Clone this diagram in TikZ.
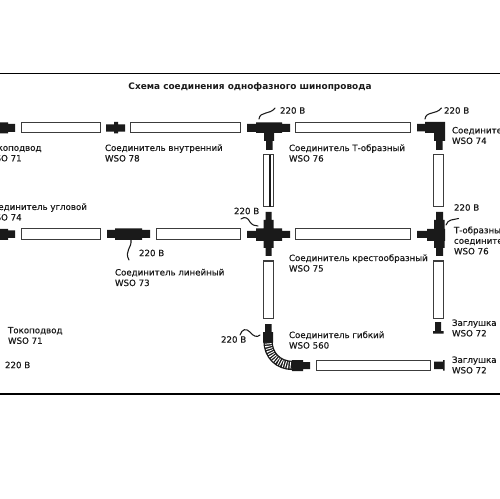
\documentclass[tikz,border=0pt]{standalone}
\usepackage{fontspec}
\setmainfont{DejaVu Sans}
\newfontfamily\lblfont[RawFeature={embolden=0.35}]{DejaVu Sans}
\usetikzlibrary{calc}
\definecolor{ink}{HTML}{1A1A1A}
\tikzset{
  lbl/.style={anchor=west,inner sep=0pt,outer sep=0pt,align=left,text=ink,font=\lblfont\fontsize{6.5}{7.9}\selectfont},
  ttl/.style={anchor=center,inner sep=0pt,text=ink,font=\fontsize{6.7}{8}\selectfont\bfseries},
  rail/.style={draw=ink!85,fill=white,line width=0.75pt},
  blk/.style={fill=ink,draw=none},
  wire/.style={draw=ink,line width=0.8pt,line cap=round},
  rule/.style={draw=black,line width=0.8pt}
}
\begin{document}
\begin{tikzpicture}[x=0.75pt,y=-0.75pt]
\useasboundingbox (0,0) rectangle (500,499);
\fill[white] (0,0) rectangle (500,499);
\clip (0,0) rectangle (500,499);
\draw[rule] (0,73.5) -- (500,73.5);
\draw[rule] (0,394) -- (500,394);
\node[ttl] (title) at (250,87) {Схема соединения однофазного шинопровода};
% horizontal rails
\draw[rail] (21,122.5) rectangle (100,133);
\draw[rail] (130,122.5) rectangle (240.5,133);
\draw[rail] (295.7,122.5) rectangle (410.7,133);
\draw[rail] (21,229) rectangle (100.5,239.5);
\draw[rail] (156.5,229) rectangle (240.5,239.5);
\draw[rail] (295.7,229) rectangle (410.7,239.5);
\draw[rail] (316,360.5) rectangle (430,370.5);
% vertical rails
\draw[rail] (263.5,155) rectangle (273.5,207);
\draw[ink,line width=1.1pt] (270,155) -- (270,207);
\draw[rail] (433.5,155) rectangle (443.5,207);
\draw[rail] (263.5,261) rectangle (273.5,318);
\draw[rail] (433.5,261) rectangle (443.5,318);
% feed WSO 71 top
\fill[blk] (0,122.5) rectangle (8,133.5) (8,124) rectangle (15,132);
% inner WSO 78
\fill[blk] (106,124.3) rectangle (125,131.7) (114,122) rectangle (118,133.5);
% T WSO 76 top
\fill[blk] (247,124) rectangle (290,132) (256,122.5) rectangle (282,133) (264,122.5) rectangle (274,141) (266,141) rectangle (272.5,150);
% corner WSO 74 top
\fill[blk] (417,124) rectangle (426,131.5) (425,122) rectangle (445,133) (434,122) rectangle (445,141) (436,141) rectangle (442.5,150);
\draw[wire] (259,119) .. controls (260,111) and (270,115) .. (275,108);
\draw[wire] (425,119) .. controls (426,111) and (436,115) .. (441.5,108);
% corner WSO 74 mid-left
\fill[blk] (0,229) rectangle (8,240) (8,230.5) rectangle (15,238);
% linear WSO 73
\fill[blk] (107,230) rectangle (150,238) (115,228.5) rectangle (142,240);
\draw[wire] (131,240) .. controls (132,248) and (124,251) .. (129,260);
% cross WSO 75
\fill[blk] (247,231) rectangle (290,238) (256,228.5) rectangle (282,241) (263.5,220) rectangle (273.5,248) (265.5,212) rectangle (271.5,256);
\draw[wire] (241,219) .. controls (245,216) and (248,218) .. (250,222) .. controls (252,225) and (255,226) .. (258,226);
% T right WSO 76
\fill[blk] (417,231) rectangle (428,238) (427,229) rectangle (445,241) (434,220) rectangle (444.5,248) (436,212) rectangle (443,256);
\draw[wire] (446,225) .. controls (448,219) and (453,220) .. (458.5,218.5);
% end caps
\fill[blk] (435,322) rectangle (441,331) (433,331) rectangle (443.5,333.5);
\fill[blk] (434,361.5) rectangle (443,369) (443,360) rectangle (444.5,370.5);
% flexible WSO 560
\draw[ink,line width=7pt] (268,341) .. controls (268,355) and (278,365.5) .. (293,365.5);
\draw[white,line width=5pt,dash pattern=on 0.7pt off 1.1pt] (268,341) .. controls (268,355) and (278,365.5) .. (293,365.5);
\fill[blk] (265,324) rectangle (271.7,334) (263,332) rectangle (273,342.5) (292,360) rectangle (303,371) (303,362) rectangle (310,369);
\draw[wire] (240,335) .. controls (242,329) and (246,328) .. (250,332) .. controls (253,336) and (257,338) .. (260,335);
% labels
\node[lbl] (l1) at (-13,153) {Токоподвод\\WSO 71};
\node[lbl] (l2) at (105,153) {Соединитель внутренний\\WSO 78};
\node[lbl] (l3) at (289,153) {Соединитель Т-образный\\WSO 76};
\node[lbl] (l4) at (452,135.5) {Соединитель\\WSO 74};
\node[lbl] (l5) at (-13,212) {Соединитель угловой\\WSO 74};
\node[lbl] (l6) at (115,277.5) {Соединитель линейный\\WSO 73};
\node[lbl] (l7) at (289,263) {Соединитель крестообразный\\WSO 75};
\node[lbl] (l8) at (454,240.5) {Т-образный\\соединитель\\WSO 76};
\node[lbl] (l9) at (8,335.5) {Токоподвод\\WSO 71};
\node[lbl] (l10) at (289,340) {Соединитель гибкий\\WSO 560};
\node[lbl] (l11) at (452,328) {Заглушка п\\WSO 72};
\node[lbl] (l12) at (452,365) {Заглушка п\\WSO 72};
\node[lbl] (v1) at (280,110.5) {220 В};
\node[lbl] (v2) at (444,110.5) {220 В};
\node[lbl] (v3) at (454,207.5) {220 В};
\node[lbl] (v4) at (234,211) {220 В};
\node[lbl] (v5) at (139,253) {220 В};
\node[lbl] (v6) at (221,339.5) {220 В};
\node[lbl] (v7) at (5,365) {220 В};
\end{tikzpicture}
\end{document}
